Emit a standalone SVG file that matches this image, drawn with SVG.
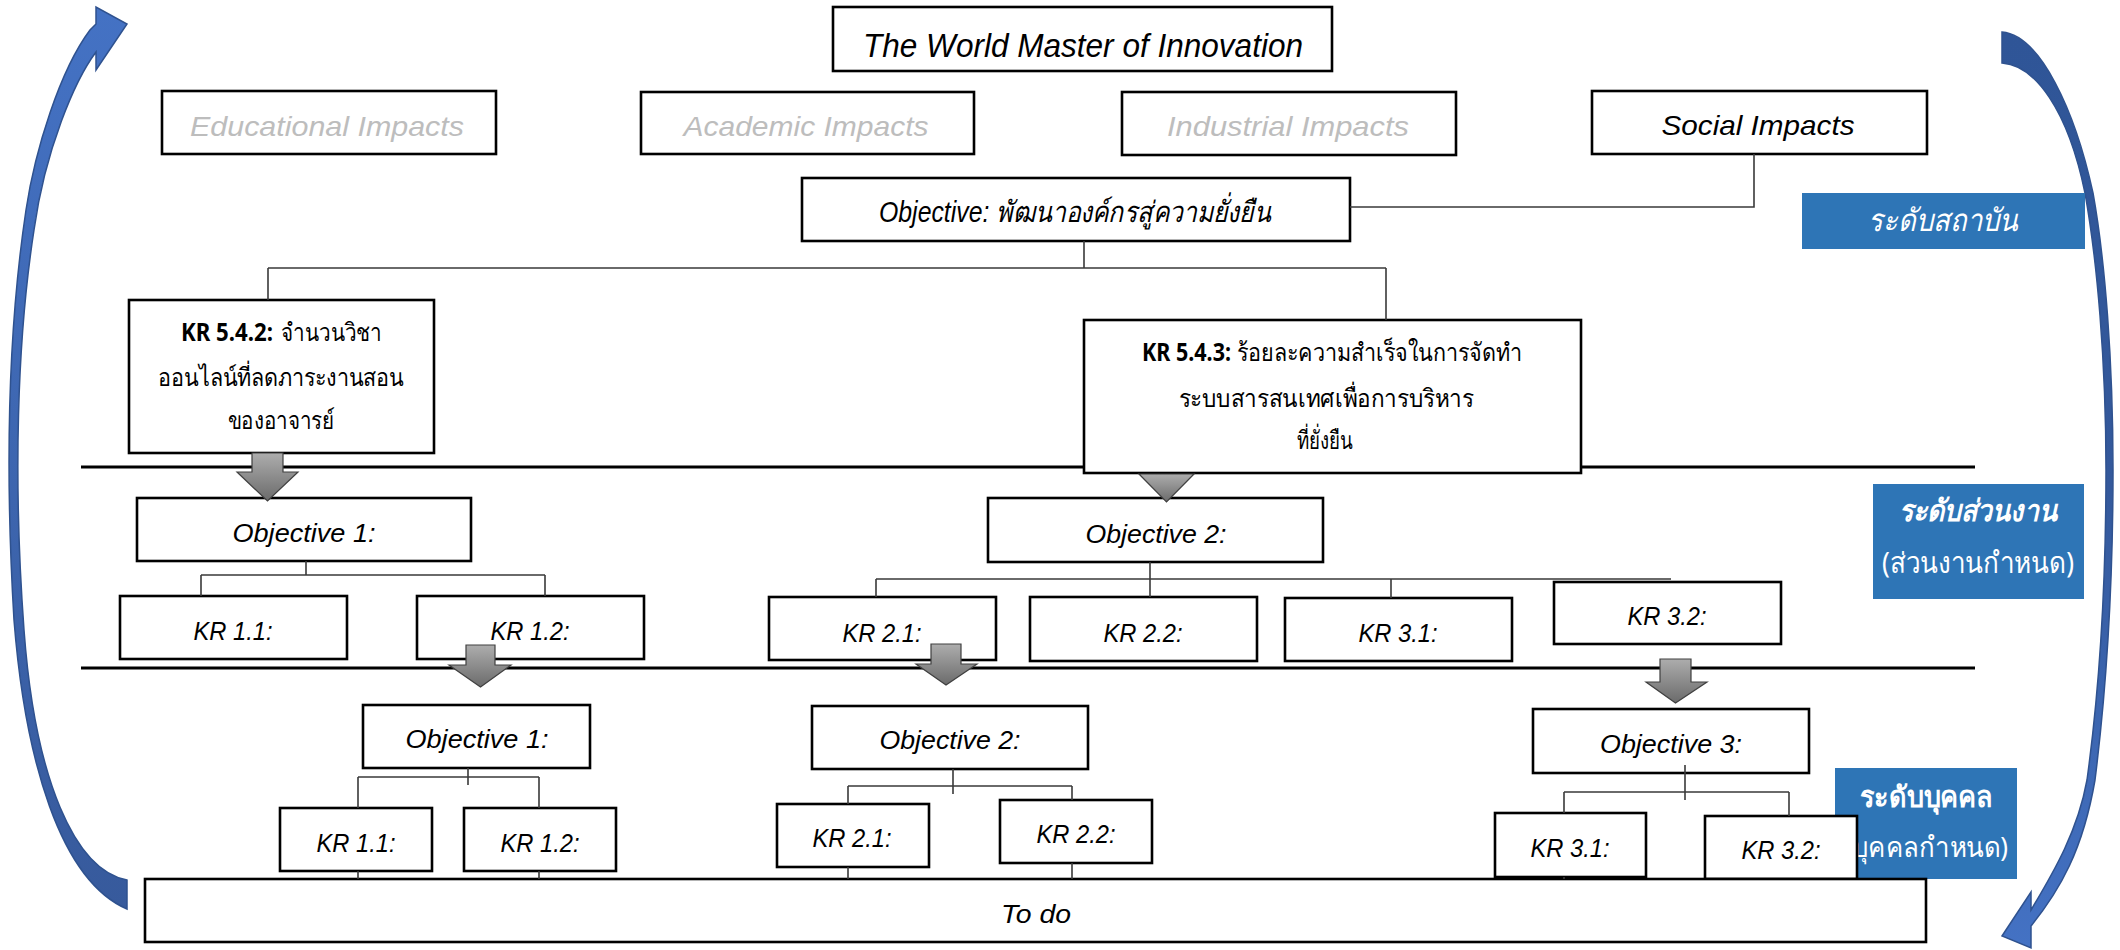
<svg xmlns="http://www.w3.org/2000/svg" width="2120" height="950" viewBox="0 0 2120 950">
<defs>
<linearGradient id="gGray" x1="0" y1="0" x2="0" y2="1">
<stop offset="0" stop-color="#ADADAD"/><stop offset="1" stop-color="#6B6B6B"/>
</linearGradient>
<linearGradient id="gLeft" x1="0" y1="0" x2="0" y2="1">
<stop offset="0" stop-color="#4472C4"/><stop offset="1" stop-color="#375A9C"/>
</linearGradient>
<linearGradient id="gRight" x1="0" y1="0" x2="0" y2="1">
<stop offset="0" stop-color="#2F5597"/><stop offset="0.5" stop-color="#34599C"/><stop offset="1" stop-color="#4472C4"/>
</linearGradient>
<style>
.box{fill:#fff;stroke:#000;stroke-width:2.6}
.lvl{fill:#2E75B6}
.sec{stroke:#000;stroke-width:3;fill:none}
.con{stroke:#3A3A3A;stroke-width:1.6;fill:none}
.ga{fill:url(#gGray);stroke:#404040;stroke-width:1.2}
.en{font-family:"Liberation Sans",Arial,sans-serif;font-style:italic;fill:#000;text-anchor:middle}
.grey{fill:#BDBDBD}
.th{font-family:"Noto Sans","DejaVu Sans",sans-serif;fill:#000;text-anchor:middle}
.st{text-anchor:start}
.wt{fill:#fff}
</style>
</defs>
<rect width="2120" height="950" fill="#fff"/>

<g id="section-lines">
<path class="sec" d="M81,467 H1975 M81,668 H1975"/>
</g>

<g id="cycle-arrows">
<path id="arrow-left" fill="url(#gLeft)" stroke="#2F528F" stroke-width="1.5" d="M127,909 C60,880 25,760 14,620 C5,470 8,330 26,210 C35,150 60,70 90,30 L96,24 L96,7 L127,24 L96,70 L96,52 C75,80 45,150 34,230 C17,340 13,480 24,630 C35,780 75,870 127,880 Z"/>
<path id="arrow-right" fill="url(#gRight)" stroke="#2F528F" stroke-width="1.5" d="M2002,32 C2040,35 2075,110 2093,193 C2105,260 2113,360 2113,470 C2113,600 2105,700 2095,780 C2083,850 2060,890 2031,926 L2031,948 L2002,936 L2031,892 L2031,910 C2055,870 2078,830 2087,780 C2098,700 2106,600 2106,470 C2106,360 2097,260 2085,193 C2068,110 2035,65 2002,63 Z"/>
</g>

<g id="level-labels">
<g id="label-institute"><rect class="lvl" x="1802" y="193" width="283" height="56"/><text class="th wt" x="1943" y="231" font-size="31" font-style="italic" textLength="150" lengthAdjust="spacingAndGlyphs">ระดับสถาบัน</text></g>
<g id="label-unit"><rect class="lvl" x="1873" y="484" width="211" height="115"/><text class="th wt" x="1978" y="521" font-size="30" font-style="italic" font-weight="bold" textLength="159" lengthAdjust="spacingAndGlyphs">ระดับส่วนงาน</text><text class="th wt" x="1978" y="573" font-size="29" textLength="192" lengthAdjust="spacingAndGlyphs">(ส่วนงานกำหนด)</text></g>
<g id="label-person"><rect class="lvl" x="1835" y="768" width="182" height="111"/><text class="th wt" x="1926" y="807" font-size="29" font-weight="bold" textLength="133" lengthAdjust="spacingAndGlyphs">ระดับบุคคล</text><text class="th wt" x="1926" y="857" font-size="28" textLength="164" lengthAdjust="spacingAndGlyphs">(บุคคลกำหนด)</text></g>
</g>

<g id="nodes">
<g id="title"><rect class="box" x="833" y="7" width="499" height="64"/><text class="en" x="1083" y="57" font-size="34" textLength="440" lengthAdjust="spacingAndGlyphs">The World Master of Innovation</text></g>
<g id="edu"><rect class="box" x="162" y="91" width="334" height="63"/><text class="en grey" x="327" y="136" font-size="28" textLength="274" lengthAdjust="spacingAndGlyphs">Educational Impacts</text></g>
<g id="acad"><rect class="box" x="641" y="92" width="333" height="62"/><text class="en grey" x="806" y="136" font-size="28" textLength="245" lengthAdjust="spacingAndGlyphs">Academic Impacts</text></g>
<g id="ind"><rect class="box" x="1122" y="92" width="334" height="63"/><text class="en grey" x="1288" y="136" font-size="28" textLength="242" lengthAdjust="spacingAndGlyphs">Industrial Impacts</text></g>
<g id="social"><rect class="box" x="1592" y="91" width="335" height="63"/><text class="en" x="1758" y="135" font-size="28" textLength="193" lengthAdjust="spacingAndGlyphs">Social Impacts</text></g>
<g id="objective"><rect class="box" x="802" y="178" width="548" height="63"/><text class="en" x="1075" y="222" font-size="29" textLength="392" lengthAdjust="spacingAndGlyphs">Objective: พัฒนาองค์กรสู่ความยั่งยืน</text></g>
<g id="kr542"><rect class="box" x="129" y="300" width="305" height="153"/>
<text class="th st" x="181" y="341" font-size="25" font-weight="bold" textLength="92" lengthAdjust="spacingAndGlyphs">KR 5.4.2:</text>
<text class="th st" x="281" y="341" font-size="25" textLength="101" lengthAdjust="spacingAndGlyphs">จำนวนวิชา</text>
<text class="th" x="281" y="386" font-size="25" textLength="246" lengthAdjust="spacingAndGlyphs">ออนไลน์ที่ลดภาระงานสอน</text>
<text class="th" x="281" y="429" font-size="25" textLength="107" lengthAdjust="spacingAndGlyphs">ของอาจารย์</text></g>
<g id="kr543"><rect class="box" x="1084" y="320" width="497" height="153"/>
<text class="th st" x="1142" y="361" font-size="25" font-weight="bold" textLength="89" lengthAdjust="spacingAndGlyphs">KR 5.4.3:</text>
<text class="th st" x="1237" y="361" font-size="25" textLength="285" lengthAdjust="spacingAndGlyphs">ร้อยละความสำเร็จในการจัดทำ</text>
<text class="th" x="1326" y="407" font-size="25" textLength="295" lengthAdjust="spacingAndGlyphs">ระบบสารสนเทศเพื่อการบริหาร</text>
<text class="th" x="1325" y="449" font-size="25" textLength="56" lengthAdjust="spacingAndGlyphs">ที่ยั่งยืน</text></g>
<g id="obj1"><rect class="box" x="137" y="498" width="334" height="63"/><text class="en" x="304" y="542" font-size="26" textLength="143" lengthAdjust="spacingAndGlyphs">Objective 1:</text></g>
<g id="kr11"><rect class="box" x="120" y="596" width="227" height="63"/><text class="en" x="233" y="640" font-size="26" textLength="79" lengthAdjust="spacingAndGlyphs">KR 1.1:</text></g>
<g id="kr12"><rect class="box" x="417" y="596" width="227" height="63"/><text class="en" x="530" y="640" font-size="26" textLength="79" lengthAdjust="spacingAndGlyphs">KR 1.2:</text></g>
<g id="obj2"><rect class="box" x="988" y="498" width="335" height="64"/><text class="en" x="1156" y="543" font-size="26" textLength="141" lengthAdjust="spacingAndGlyphs">Objective 2:</text></g>
<g id="kr21"><rect class="box" x="769" y="597" width="227" height="63"/><text class="en" x="882" y="642" font-size="26" textLength="79" lengthAdjust="spacingAndGlyphs">KR 2.1:</text></g>
<g id="kr22"><rect class="box" x="1030" y="597" width="227" height="64"/><text class="en" x="1143" y="642" font-size="26" textLength="79" lengthAdjust="spacingAndGlyphs">KR 2.2:</text></g>
<g id="kr31"><rect class="box" x="1285" y="598" width="227" height="63"/><text class="en" x="1398" y="642" font-size="26" textLength="79" lengthAdjust="spacingAndGlyphs">KR 3.1:</text></g>
<g id="kr32"><rect class="box" x="1554" y="582" width="227" height="62"/><text class="en" x="1667" y="625" font-size="26" textLength="79" lengthAdjust="spacingAndGlyphs">KR 3.2:</text></g>
<g id="p-obj1"><rect class="box" x="363" y="705" width="227" height="63"/><text class="en" x="477" y="748" font-size="26" textLength="143" lengthAdjust="spacingAndGlyphs">Objective 1:</text></g>
<g id="p-kr11"><rect class="box" x="280" y="808" width="152" height="63"/><text class="en" x="356" y="852" font-size="26" textLength="79" lengthAdjust="spacingAndGlyphs">KR 1.1:</text></g>
<g id="p-kr12"><rect class="box" x="464" y="808" width="152" height="63"/><text class="en" x="540" y="852" font-size="26" textLength="79" lengthAdjust="spacingAndGlyphs">KR 1.2:</text></g>
<g id="p-obj2"><rect class="box" x="812" y="706" width="276" height="63"/><text class="en" x="950" y="749" font-size="26" textLength="141" lengthAdjust="spacingAndGlyphs">Objective 2:</text></g>
<g id="p-kr21"><rect class="box" x="777" y="804" width="152" height="63"/><text class="en" x="852" y="847" font-size="26" textLength="79" lengthAdjust="spacingAndGlyphs">KR 2.1:</text></g>
<g id="p-kr22"><rect class="box" x="1000" y="800" width="152" height="63"/><text class="en" x="1076" y="843" font-size="26" textLength="79" lengthAdjust="spacingAndGlyphs">KR 2.2:</text></g>
<g id="p-obj3"><rect class="box" x="1533" y="709" width="276" height="64"/><text class="en" x="1671" y="753" font-size="26" textLength="142" lengthAdjust="spacingAndGlyphs">Objective 3:</text></g>
<g id="p-kr31"><rect class="box" x="1495" y="813" width="151" height="64"/><text class="en" x="1570" y="857" font-size="26" textLength="79" lengthAdjust="spacingAndGlyphs">KR 3.1:</text></g>
<g id="p-kr32"><rect class="box" x="1705" y="816" width="152" height="63"/><text class="en" x="1781" y="859" font-size="26" textLength="79" lengthAdjust="spacingAndGlyphs">KR 3.2:</text></g>
<g id="todo"><rect class="box" x="145" y="879" width="1781" height="63"/><text class="en" x="1036" y="923" font-size="26" textLength="70" lengthAdjust="spacingAndGlyphs">To do</text></g>
</g>

<g id="connectors">
<path class="con" d="M1754,154 V207 H1350"/>
<path class="con" d="M1084,241 V268 M268,268 H1386 M268,268 V300 M1386,268 V320"/>
<path class="con" d="M306,561 V575 M201,575 H545 M201,575 V596 M545,575 V596"/>
<path class="con" d="M1150,562 V597 M876,579 H1671 M876,579 V597 M1391,579 V598"/>
<path class="con" d="M468,768 V785 M358,777 H539 M358,777 V808 M539,777 V808 M358,871 V879 M539,871 V879"/>
<path class="con" d="M953,769 V794 M848,786 H1072 M848,786 V804 M1072,786 V800 M848,867 V879 M1072,863 V879"/>
<path class="con" d="M1685,765 V800 M1564,792 H1789 M1564,792 V813 M1789,792 V816 M1564,877 V879"/>
<polygon class="ga" points="252,453 283,453 283,472 298,472 267.5,501 237,472 252,472"/>
<polygon class="ga" points="1139,474 1194,474 1166.5,502"/>
<polygon class="ga" points="466,645 495,645 495,665 511,665 480.5,687 449,665 466,665"/>
<polygon class="ga" points="931,644 961,644 961,664 977,664 946,685 916,664 931,664"/>
<polygon class="ga" points="1660,659 1691,659 1691,682 1707,682 1675.5,703 1646,682 1660,682"/>
</g>
</svg>
